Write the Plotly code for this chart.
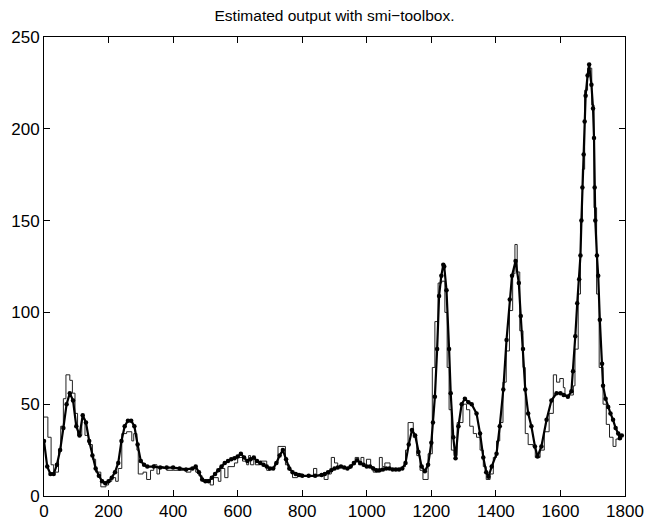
import plotly.graph_objects as go

# Estimated (simulated) model output, read at selected sample indices
est_x = [0, 10, 20, 30, 40, 50, 60, 70, 80, 90, 100, 110, 120, 130, 140, 150, 160, 170, 180, 190,
         200, 210, 220, 230, 240, 250, 260, 270, 280, 290, 300, 310, 320, 340, 360, 380, 400, 420,
         440, 460, 470, 480, 490, 500, 510, 520, 530, 540, 550, 560, 570, 580, 590, 600, 610, 620,
         630, 640, 650, 660, 670, 680, 690, 700, 710, 720, 730, 740, 750, 760, 770, 780, 790, 800,
         820, 840, 860, 870, 880, 890, 900, 910, 920, 930, 940, 950, 960, 970, 980, 990, 1000, 1010,
         1020, 1030, 1040, 1050, 1060, 1070, 1080, 1090, 1100, 1110, 1120, 1130, 1140, 1150, 1160,
         1170, 1180, 1190, 1200, 1205, 1211, 1218, 1224, 1231, 1237, 1240, 1247, 1255, 1260, 1268,
         1275, 1284, 1294, 1304, 1315, 1325, 1340, 1351, 1361, 1370, 1377, 1387, 1402, 1412, 1423,
         1433, 1443, 1450, 1461, 1471, 1477, 1484, 1491, 1500, 1510, 1521, 1529, 1541, 1557, 1572,
         1588, 1600, 1610, 1623, 1634, 1639, 1646, 1652, 1658, 1662, 1665, 1668, 1672, 1675, 1678,
         1684, 1689, 1696, 1701, 1704, 1706, 1708, 1713, 1717, 1722, 1729, 1732, 1740, 1748, 1755,
         1763, 1771, 1779, 1784, 1790]
est_y = [30, 16, 12, 12, 17, 25, 37, 50, 56, 52, 38, 33, 44, 40, 30, 22, 15, 11, 8, 7,
         8, 10, 13, 18, 30, 38, 41, 41, 38, 28, 19, 17, 16, 16, 15.5, 15.5, 15.5, 15,
         14.5, 15, 16, 13, 9, 8, 8, 10, 12, 14, 16, 18, 19, 20, 20.5, 21.5, 23, 21,
         19, 20, 21, 19, 18, 17, 16, 15, 15, 18, 22, 25, 20, 15, 13, 12, 11.5, 11,
         11, 11, 11.5, 12, 13, 14, 15, 15.5, 16, 15.5, 15, 16, 18, 19.5, 18, 17, 16, 16,
         15, 14, 14, 14.5, 15, 15, 14.5, 14.5, 14.5, 15, 18, 28, 36, 33, 24,
         16, 13.5, 17, 29, 40, 54, 80, 109, 120, 126, 125, 112, 80, 56, 32,
         20.5, 38, 50, 53, 51, 50, 45, 34, 21, 13, 10.5, 16, 23, 38, 58,
         85, 107, 120, 128, 116, 98, 80, 58, 45, 38, 27, 21.5, 27, 41.5, 52,
         56, 56, 55, 54, 57, 68, 87, 105, 118, 131, 150, 168, 186, 204, 218,
         229, 235, 224, 211, 195, 168, 150, 131, 120, 96, 72, 60, 53, 48.5, 45,
         41.5, 37, 34, 31.5, 33]

# Measured output (held between samples, drawn as a staircase)
meas_x = [0, 12, 22, 30, 45, 52, 60, 68, 80, 88, 96, 104, 117, 127, 138, 150, 160, 176, 192, 200,
          210, 222, 230, 241, 256, 272, 278, 288, 292, 307, 318, 330, 340, 350, 358, 370, 380, 400,
          440, 455, 470, 480, 490, 500, 515, 525, 540, 548, 560, 570, 590, 600, 615, 628, 634, 640,
          650, 655, 668, 690, 700, 715, 725, 748, 760, 770, 785, 800, 835, 845, 868, 880, 890, 900,
          910, 930, 950, 964, 975, 982, 991, 999, 1012, 1020, 1039, 1048, 1056, 1072, 1110, 1120,
          1128, 1144, 1155, 1165, 1174, 1190, 1203, 1211, 1221, 1232, 1242, 1249, 1255, 1262, 1270,
          1280, 1298, 1309, 1319, 1330, 1340, 1351, 1361, 1370, 1382, 1392, 1402, 1412, 1422, 1432,
          1442, 1452, 1459, 1466, 1474, 1484, 1491, 1500, 1515, 1522, 1537, 1550, 1565, 1578, 1588,
          1598, 1609, 1614, 1640, 1645, 1655, 1662, 1668, 1675, 1684, 1697, 1704, 1712, 1720, 1732,
          1742, 1752, 1763, 1772, 1790]
meas_y = [43, 32, 17, 13, 25, 38, 53, 66, 63, 56, 45, 33, 42, 33, 28, 20, 13, 5, 6, 8,
          10, 8, 15, 34, 35, 30, 34, 25, 12, 13, 9, 14, 17, 12, 16, 15, 14, 14,
          13, 15, 13, 11, 8, 9, 6, 10, 8, 15, 10, 16, 18, 21, 19, 17, 22, 17,
          21, 17, 19, 14, 15, 18, 27, 17, 14, 10, 12, 11, 15, 11, 9, 12, 21, 18,
          16, 15, 17, 21, 17, 21, 16, 20, 16, 13, 21, 16, 18, 15, 16, 25,
          40, 32, 22, 14, 9, 23, 70, 95, 116, 117, 100, 70, 47, 25, 22,
          40, 50, 47, 38, 34, 32, 25, 16, 9, 12, 21, 30, 40, 62, 79,
          101, 121, 137, 122, 90, 70, 34, 28, 27, 21, 25, 35, 45, 66, 62,
          64, 59, 55, 60, 80, 110, 150, 178, 221, 233, 213, 157, 110, 70, 50,
          39, 32, 27, 31, 31]

FONT = "Liberation Sans, Arial, Helvetica, sans-serif"

fig = go.Figure()

fig.add_trace(go.Scatter(
    x=meas_x, y=meas_y, mode="lines", line_shape="hv",
    line=dict(color="#222222", width=1), name="measured", showlegend=False,
))

fig.add_trace(go.Scatter(
    x=est_x, y=est_y, mode="lines+markers",
    line=dict(color="black", width=2.2),
    marker=dict(color="black", size=4.5),
    name="estimated", showlegend=False,
))

axis_common = dict(
    showline=True, linecolor="black", linewidth=1, mirror="ticks",
    ticks="inside", ticklen=6, tickcolor="black", tickwidth=1,
    showgrid=False, zeroline=False, automargin=False,
    tickfont=dict(family=FONT, size=17, color="black"),
)

fig.update_layout(
    width=647, height=523,
    margin=dict(l=44, r=22, t=37, b=27),
    paper_bgcolor="white", plot_bgcolor="white",
    title=dict(
        text="Estimated output with smi\u2212toolbox.",
        x=(44 + 625) / 2 / 647, xanchor="center",
        y=1 - 16 / 523, yanchor="middle",
        font=dict(family=FONT, size=15.5, color="black"),
    ),
    xaxis=dict(range=[0, 1800], dtick=200, tick0=0, **axis_common),
    yaxis=dict(range=[0, 250], dtick=50, tick0=0, **axis_common),
)

fig.write_html("out.html")
